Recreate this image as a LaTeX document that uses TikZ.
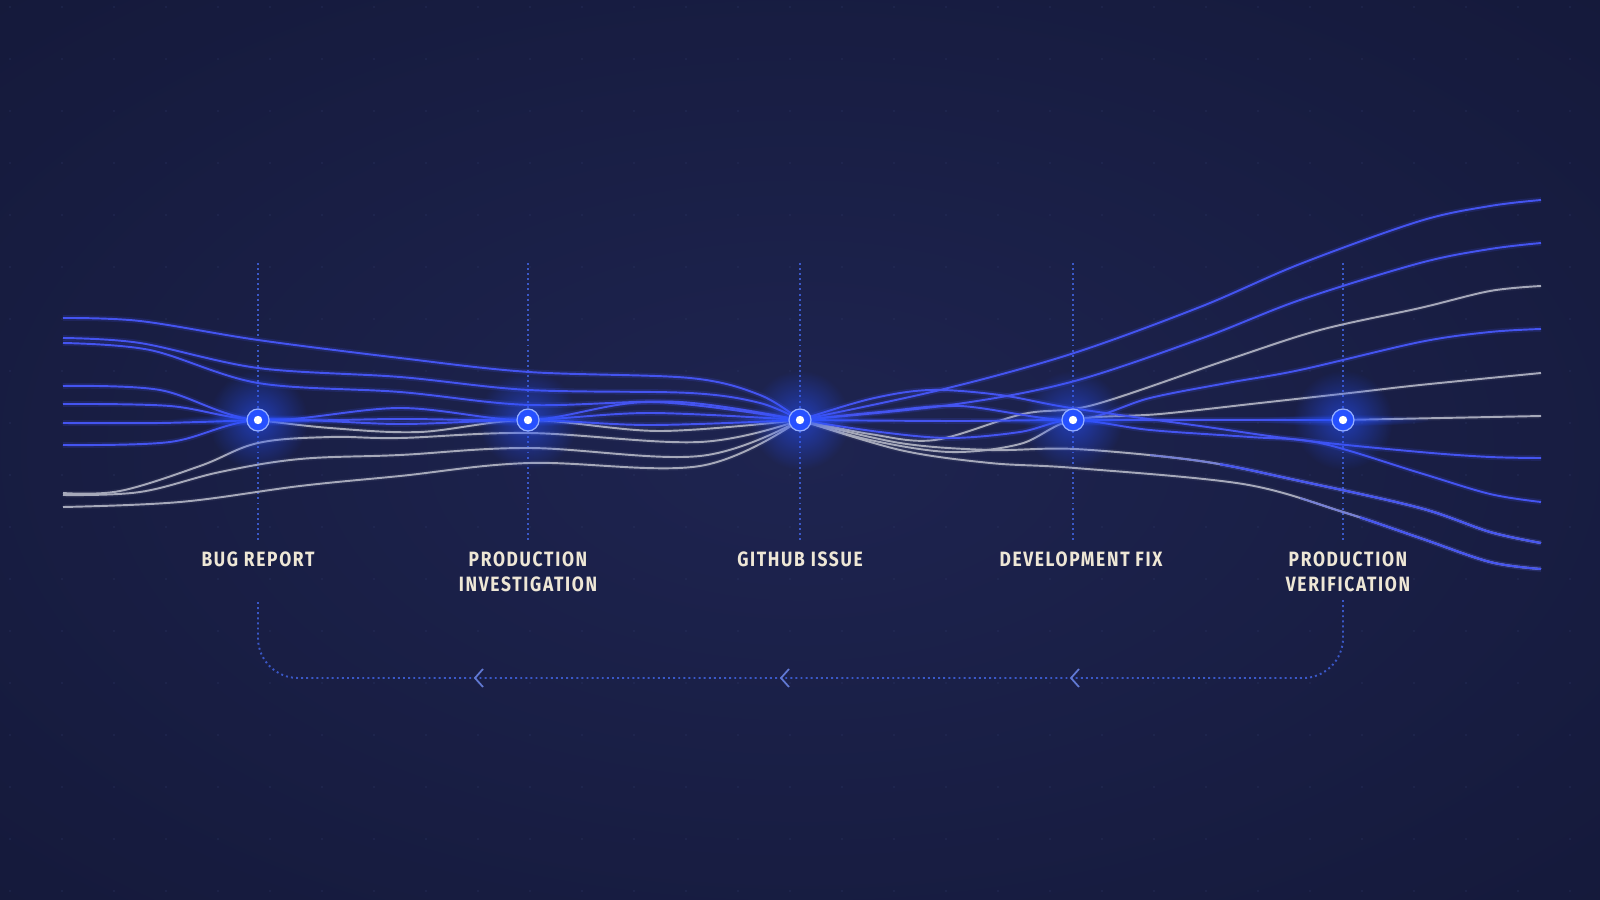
\documentclass[tikz,border=0pt]{standalone}
\usepackage{fontspec}
\newfontfamily\stagefont[FakeStretch=0.84, LetterSpace=8]{Fira Sans}
\usepackage{tikz}
\usetikzlibrary{positioning, fadings}

\definecolor{bgin}{RGB}{30,36,80}
\definecolor{bgmid}{RGB}{22,27,62}
\definecolor{bgout}{RGB}{14,17,40}
\definecolor{lineblue}{RGB}{68,84,240}
\definecolor{linegray}{RGB}{166,169,186}
\definecolor{guideblue}{RGB}{58,88,200}
\definecolor{nodeblue}{RGB}{38,80,255}
\definecolor{ringblue}{RGB}{150,175,255}
\definecolor{labelcream}{RGB}{238,231,214}
\definecolor{gridblue}{RGB}{48,58,105}

\pgfdeclareradialshading{backdrop}{\pgfpoint{0bp}{0bp}}{color(0bp)=(bgin); color(30bp)=(bgmid); color(72bp)=(bgout)}
\tikzfading[name=glowfade, inner color=transparent!20, outer color=transparent!100]

\newcommand\pathnine{plot [smooth, tension=.55] coordinates {(gi) (900,443) (990,450) (1075,449) (1200,461) (1300,481) (1420,508) (1490,532) (1541,543)}}
\newcommand\pathten{plot [smooth, tension=.55] coordinates {(gi) (900,450) (990,463) (1075,468) (1243,484) (1343,512) (1420,538) (1490,562) (1541,569)}}

\tikzset{
  blueline/.style={draw=lineblue, line width=0.55pt, preaction={draw=lineblue, line width=1.6pt, opacity=.16}},
  grayline/.style={draw=linegray, line width=0.55pt, preaction={draw=linegray, line width=1.4pt, opacity=.08}},
  midline/.style={draw=lineblue!50!linegray, line width=0.55pt},
  guide/.style={draw=guideblue, line width=0.55pt, dash pattern=on 0.55pt off 0.9pt},
  chevron/.style={draw=guideblue!80!white, line width=0.5pt},
  stage/.style={circle, inner sep=0, outer sep=0, minimum size=2.2mm, fill=nodeblue, draw=ringblue, line width=0.35pt},
  stagelabel/.style={text=labelcream, font=\stagefont\bfseries\fontsize{5.9}{7.1}\selectfont, align=center, inner sep=0}
}

\begin{document}
\begin{tikzpicture}[x=0.1mm, y=-0.1mm]
      \useasboundingbox (0,0) rectangle (1600,900);
      \shade [shading=backdrop] (0,0) rectangle (1600,900);
      \foreach \gx in {10,62,...,1600}
        \foreach \gy in {7,59,...,900}
          \fill [gridblue, opacity=.35] (\gx,\gy) circle (1.1);

      \coordinate (br) at (258,420);
      \coordinate (pi) at (528,420);
      \coordinate (gi) at (800,420);
      \coordinate (df) at (1073,420);
      \coordinate (pv) at (1343,420);

      \foreach \s in {br,pi,gi,df,pv}
        \draw [guide] (\s) ++(0,-157) -- ++(0,278);

      % left half of the bundle
      \draw [blueline] plot [smooth, tension=.55] coordinates {(63,318) (140,321) (258,340) (400,358) (529,372) (690,378) (760,395) (gi)};
      \draw [blueline] plot [smooth, tension=.55] coordinates {(63,338) (140,343) (258,368) (400,377) (529,390) (690,393) (760,403) (gi)};
      \draw [blueline] plot [smooth, tension=.55] coordinates {(63,343) (150,350) (258,383) (400,392) (529,405) (680,402) (gi)};
      \draw [blueline] plot [smooth, tension=.55] coordinates {(63,386) (160,390) (br) (400,408) (pi) (650,402) (gi)};
      \draw [blueline] plot [smooth, tension=.55] coordinates {(63,404) (170,406) (br) (400,419) (pi) (650,413) (gi)};
      \draw [blueline] plot [smooth, tension=.55] coordinates {(63,423) (160,423) (br)};
      \draw [grayline] plot [smooth, tension=.55] coordinates {(br) (330,428) (420,432) (pi) (660,431) (gi)};
      \draw [blueline] plot [smooth, tension=.55] coordinates {(63,445) (170,442) (br) (400,424) (pi) (650,425) (gi)};
      \draw [grayline] plot [smooth, tension=.6] coordinates {(63,493) (120,491) (200,466) (258,443) (330,437) (400,438) (529,433) (700,442) (gi)};
      \draw [grayline] plot [smooth, tension=.6] coordinates {(63,495) (140,492) (220,472) (300,459) (400,455) (529,448) (700,456) (gi)};
      \draw [grayline] plot [smooth, tension=.6] coordinates {(63,507) (180,502) (300,486) (400,476) (529,463) (700,466) (gi)};

      % right half of the bundle
      \draw [blueline] plot [smooth, tension=.55] coordinates {(gi) (940,390) (1071,354) (1200,307) (1300,264) (1420,221) (1490,206) (1541,200)};
      \draw [blueline] plot [smooth, tension=.55] coordinates {(gi) (950,405) (1071,382) (1200,339) (1300,300) (1420,263) (1490,249) (1541,243)};
      \draw [grayline] plot [smooth, tension=.55] coordinates {(gi) (870,434) (935,440) (1023,414) (1093,405) (1227,360) (1320,330) (1420,308) (1490,291) (1541,286)};
      \draw [blueline] plot [smooth, tension=.55] coordinates {(gi) (880,412) (960,406) (df) (1150,398) (1227,383) (1300,370) (1420,342) (1490,332) (1541,329)};
      \draw [grayline] plot [smooth, tension=.55] coordinates {(gi) (870,440) (950,452) (1020,444) (df) (1160,414) (1260,403) (1350,393) (1420,385) (1541,373)};
      \draw [blueline] plot [smooth, tension=.55] coordinates {(gi) (957,421) (df) (pv)};
      \draw [grayline] (pv) -- (1541,416);
      \draw [blueline] plot [smooth, tension=.55] coordinates {(gi) (870,399) (930,390) (1000,395) (1071,408) (1200,426) (1300,440) (1420,452) (1490,457) (1541,458)};
      \draw [blueline] plot [smooth, tension=.55] coordinates {(gi) (880,432) (950,438) (1020,432) (df) (1150,430) (1250,437) (1320,443) (1420,473) (1490,494) (1541,502)};
      \draw [grayline] \pathnine;
      \begin{scope}
        \clip (1150,0) rectangle (1600,900);
        \draw [midline] \pathnine;
      \end{scope}
      \begin{scope}
        \clip (1220,0) rectangle (1600,900);
        \draw [blueline] \pathnine;
      \end{scope}
      \draw [grayline] \pathten;
      \begin{scope}
        \clip (1300,0) rectangle (1600,900);
        \draw [midline] \pathten;
      \end{scope}
      \begin{scope}
        \clip (1360,0) rectangle (1600,900);
        \draw [blueline] \pathten;
      \end{scope}

      \foreach \s in {br,pi,gi,df,pv} {
        \fill [nodeblue, path fading=glowfade, opacity=.75] (\s) circle (50);
        \fill [nodeblue, path fading=glowfade, opacity=.7] (\s) ellipse (90 and 6);
        \node [stage] (\s-dot) at (\s) {};
        \fill [white] (\s) circle (4.2);
      }

      \node [stagelabel, below=13.1mm of br] (br-text) {BUG REPORT};
      \node [stagelabel, below=13.1mm of pi] (pi-text) {PRODUCTION\\INVESTIGATION};
      \node [stagelabel, below=13.1mm of gi] (gi-text) {GITHUB ISSUE};
      \node [stagelabel, below=13.1mm of df, xshift=0.8mm] (df-text) {DEVELOPMENT FIX};
      \node [stagelabel, below=13.1mm of pv, xshift=0.5mm] (pv-text) {PRODUCTION\\VERIFICATION};

      \coordinate (pv-foot) at (1343,600);
      \coordinate (br-foot) at (258,600);
      \draw [guide, rounded corners=4mm] (pv-foot) -- ++(0,78) -| (br-foot);
      \foreach \ax in {475,781,1071}
        \draw [chevron] ({\ax+8},669) -- (\ax,678) -- ({\ax+8},687);
\end{tikzpicture}
\end{document}
